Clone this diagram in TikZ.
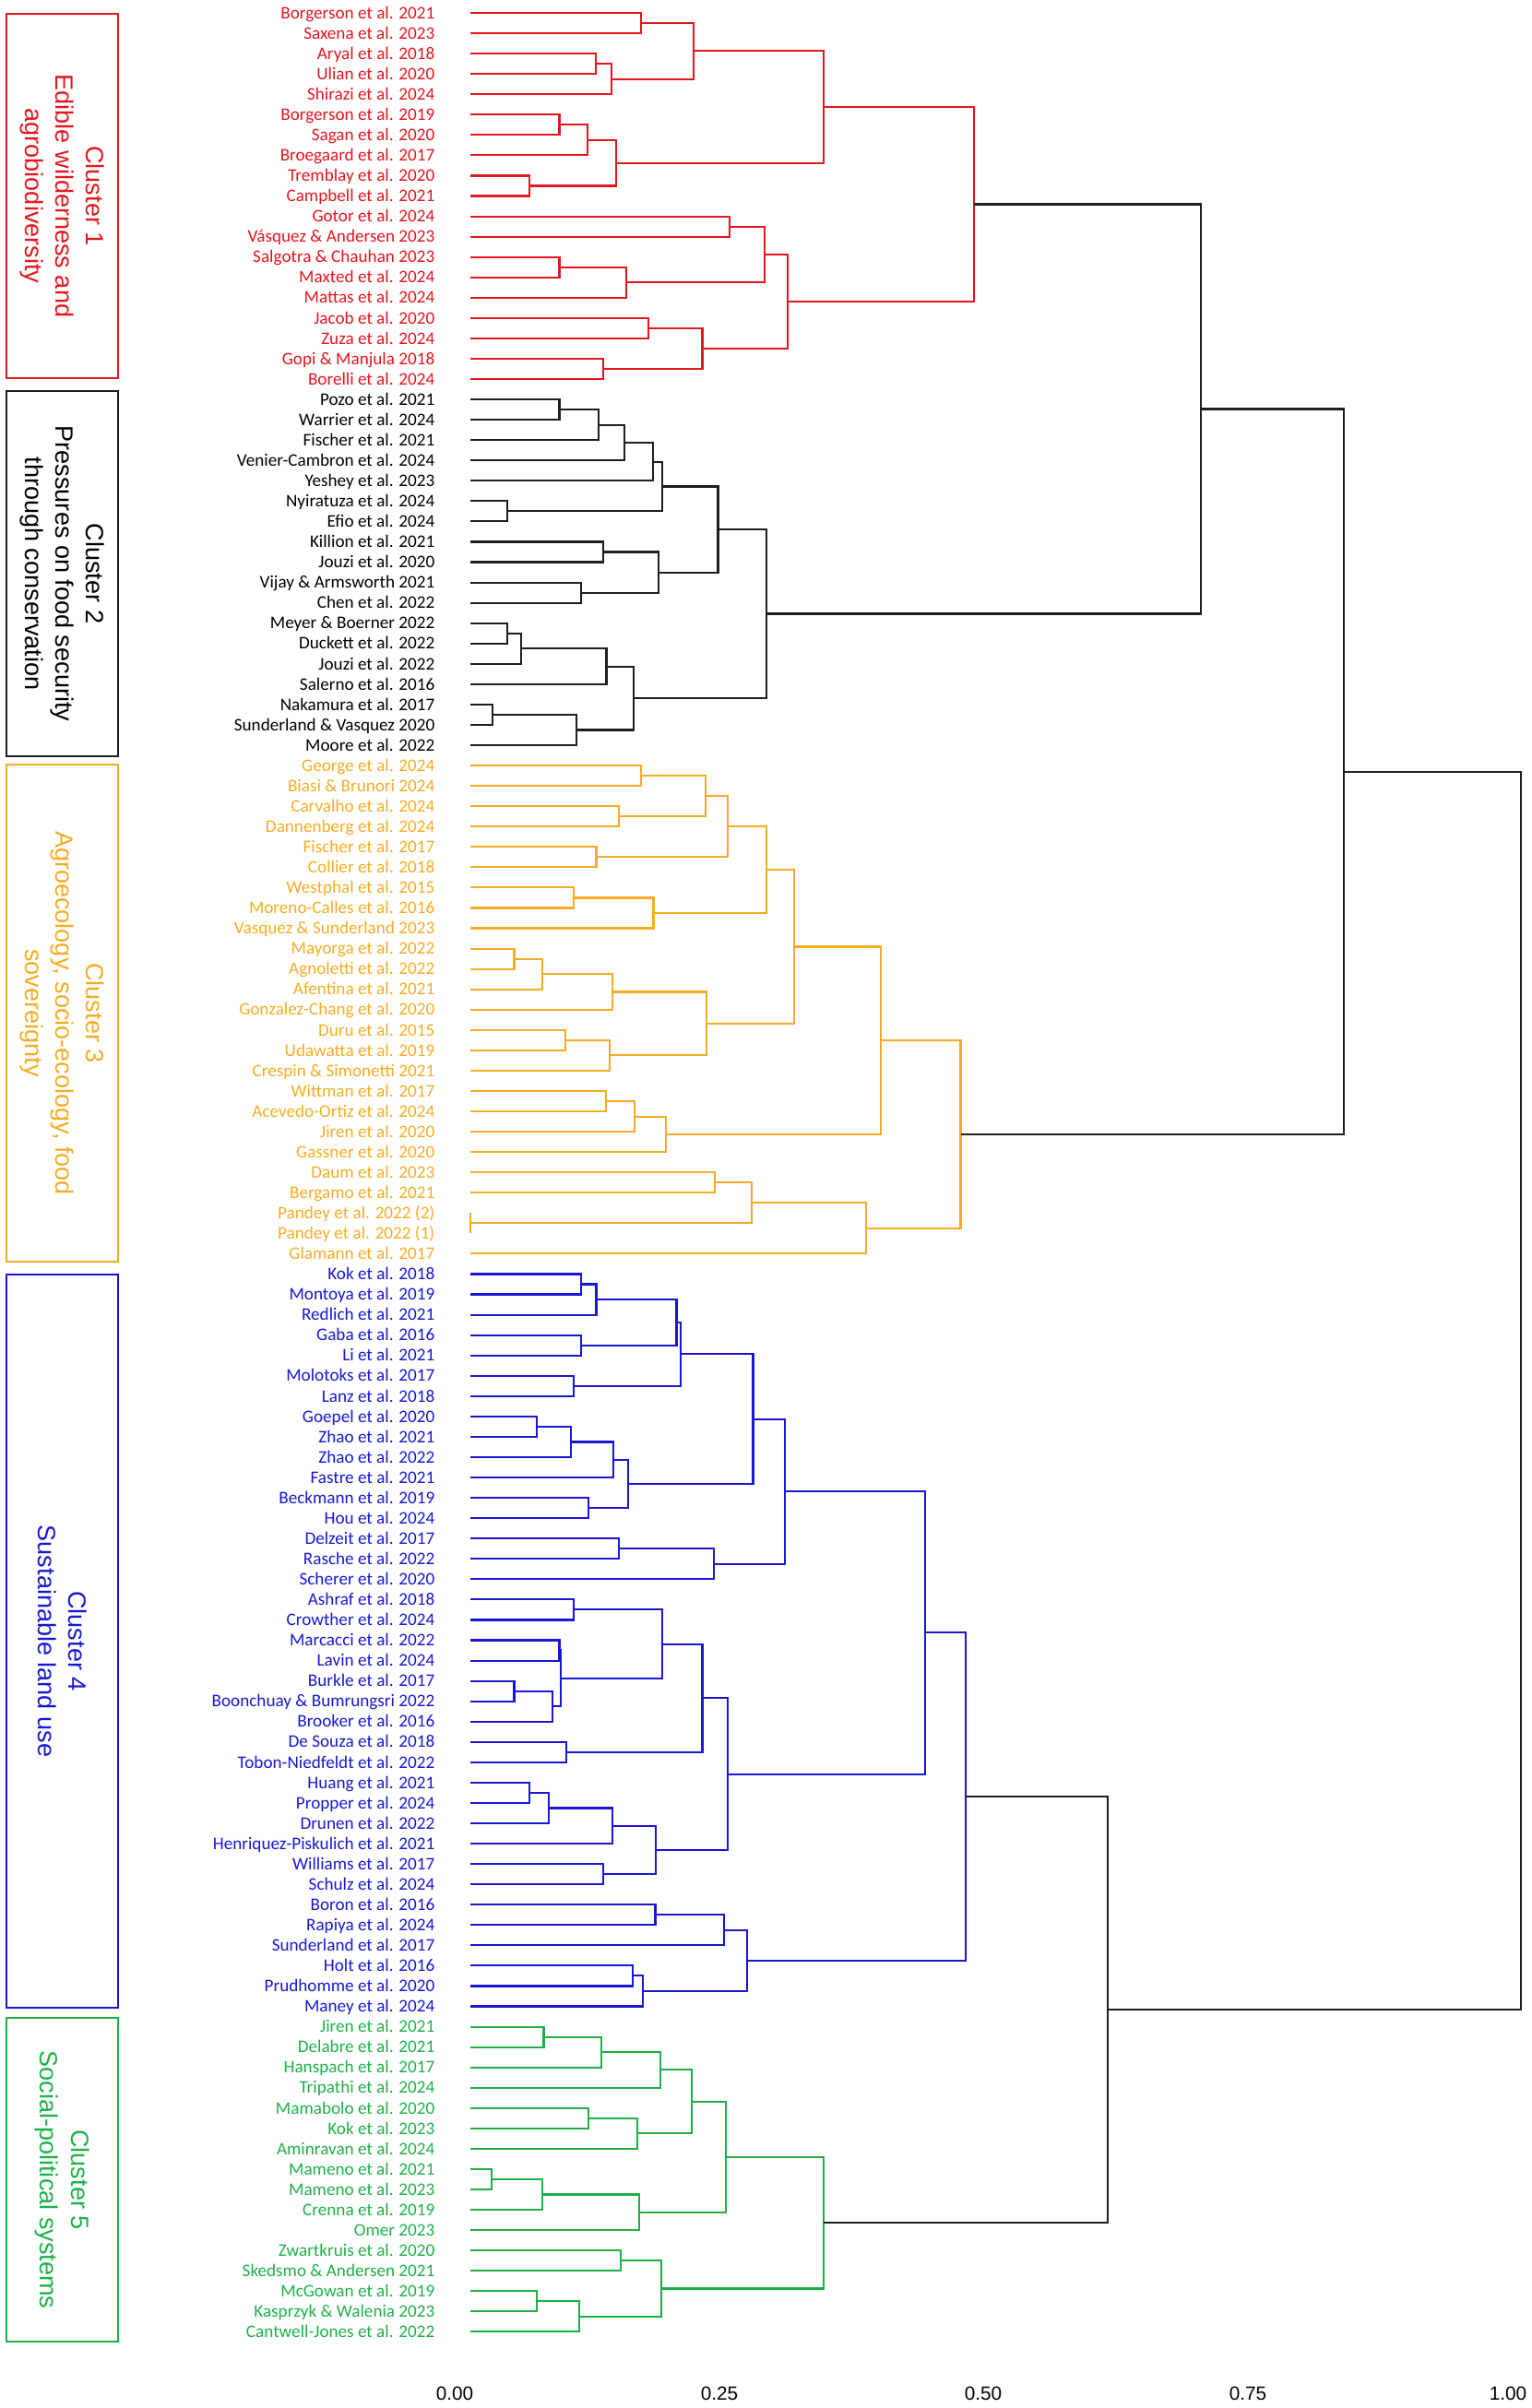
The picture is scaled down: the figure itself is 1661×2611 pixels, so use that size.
\documentclass[tikz,border=0pt]{standalone}
\usepackage{fontspec}
\setmainfont{Liberation Sans}
\newfontfamily\leaffont{Carlito}
\usepackage{tikz}
\usetikzlibrary{calc}
\definecolor{clred}{RGB}{228,22,30}
\definecolor{clgray}{RGB}{30,30,30}
\definecolor{clorange}{RGB}{245,172,36}
\definecolor{clblue}{RGB}{24,24,210}
\definecolor{clgreen}{RGB}{30,176,72}

% merge: [style]{name}{height x}{child a}{child b}, y = middle of the two children
\newcommand{\mrg}[5][]{%
  \edef\mrgx{#3}%
  \path let \p1=(#4), \p2=(#5) in ({\mrgx*0.01cm},{(\y1+\y2)/2}) coordinate (#2);
  \draw[link,#1] (#2) |- (#4) (#2) |- (#5);
}

\begin{document}
\begin{tikzpicture}[x=0.01cm, y=-0.01cm]
    \tikzstyle{link} = [line width=0.6pt]
    \tikzstyle{leaf} = [anchor=base east, inner sep=0pt, font=\leaffont\fontsize{5.45}{6.5}\selectfont]
    \tikzstyle{clbox} = [draw, line width=0.7pt, rotate=-90, align=center, inner sep=0pt, minimum height=1.21cm, font=\fontsize{7.7}{9.4}\selectfont]
    \tikzstyle{tick} = [font=\fontsize{5.9}{7}\selectfont]

    \useasboundingbox (0,0) rectangle (1661,2611);

    % Cluster boxes
    \node[clbox, draw=clred, text=clred, minimum width=3.95cm] (box1) at (67.5,212.5) {Cluster 1\\Edible wilderness and\\agrobiodiversity};
    \node[clbox, draw=clgray, text=black, minimum width=3.96cm] (box2) at (67.5,622) {Cluster 2\\Pressures on food security\\through conservation};
    \node[clbox, draw=clorange, text=clorange, minimum width=5.39cm] (box3) at (67.5,1098.5) {Cluster 3\\Agroecology, socio-ecology, food\\sovereignty};
    \node[clbox, draw=clblue, text=clblue, minimum width=7.95cm] (box4) at (67.5,1779.5) {Cluster 4\\Sustainable land use};
    \node[clbox, draw=clgreen, text=clgreen, minimum width=3.51cm] (box5) at (67.5,2363.5) {Cluster 5\\Social-political systems};

    % Leaves
    \foreach \lbl [count=\i from 0] in {Borgerson et al. 2021, Saxena et al. 2023, Aryal et al. 2018, Ulian et al. 2020, Shirazi et al. 2024, Borgerson et al. 2019, Sagan et al. 2020, Broegaard et al. 2017, Tremblay et al. 2020, Campbell et al. 2021, Gotor et al. 2024, Vásquez \& Andersen 2023, Salgotra \& Chauhan 2023, Maxted et al. 2024, Mattas et al. 2024, Jacob et al. 2020, Zuza et al. 2024, Gopi \& Manjula 2018, Borelli et al. 2024}{
        \node[leaf, text=clred] (t\i) at (472,{20.2+22.056*\i}) {\lbl};
        \coordinate (l\i) at (510,{14+22.056*\i});
    }
    \foreach \lbl [count=\i from 19] in {Pozo et al. 2021, Warrier et al. 2024, Fischer et al. 2021, Venier-Cambron et al. 2024, Yeshey et al. 2023, Nyiratuza et al. 2024, Efio et al. 2024, Killion et al. 2021, Jouzi et al. 2020, Vijay \& Armsworth 2021, Chen et al. 2022, Meyer \& Boerner 2022, Duckett et al. 2022, Jouzi et al. 2022, Salerno et al. 2016, Nakamura et al. 2017, Sunderland \& Vasquez 2020, Moore et al. 2022}{
        \node[leaf, text=black] (t\i) at (472,{20.2+22.056*\i}) {\lbl};
        \coordinate (l\i) at (510,{14+22.056*\i});
    }
    \foreach \lbl [count=\i from 37] in {George et al. 2024, Biasi \& Brunori 2024, Carvalho et al. 2024, Dannenberg et al. 2024, Fischer et al. 2017, Collier et al. 2018, Westphal et al. 2015, Moreno-Calles et al. 2016, Vasquez \& Sunderland 2023, Mayorga et al. 2022, Agnoletti et al. 2022, Afentina et al. 2021, Gonzalez-Chang et al. 2020, Duru et al. 2015, Udawatta et al. 2019, Crespin \& Simonetti 2021, Wittman et al. 2017, Acevedo-Ortiz et al. 2024, Jiren et al. 2020, Gassner et al. 2020, Daum et al. 2023, Bergamo et al. 2021, Pandey et al. 2022 (2), Pandey et al. 2022 (1), Glamann et al. 2017}{
        \node[leaf, text=clorange] (t\i) at (472,{20.2+22.056*\i}) {\lbl};
        \coordinate (l\i) at (510,{14+22.056*\i});
    }
    \foreach \lbl [count=\i from 62] in {Kok et al. 2018, Montoya et al. 2019, Redlich et al. 2021, Gaba et al. 2016, Li et al. 2021, Molotoks et al. 2017, Lanz et al. 2018, Goepel et al. 2020, Zhao et al. 2021, Zhao et al. 2022, Fastre et al. 2021, Beckmann et al. 2019, Hou et al. 2024, Delzeit et al. 2017, Rasche et al. 2022, Scherer et al. 2020, Ashraf et al. 2018, Crowther et al. 2024, Marcacci et al. 2022, Lavin et al. 2024, Burkle et al. 2017, Boonchuay \& Bumrungsri 2022, Brooker et al. 2016, De Souza et al. 2018, Tobon-Niedfeldt et al. 2022, Huang et al. 2021, Propper et al. 2024, Drunen et al. 2022, Henriquez-Piskulich et al. 2021, Williams et al. 2017, Schulz et al. 2024, Boron et al. 2016, Rapiya et al. 2024, Sunderland et al. 2017, Holt et al. 2016, Prudhomme et al. 2020, Maney et al. 2024}{
        \node[leaf, text=clblue] (t\i) at (472,{20.2+22.056*\i}) {\lbl};
        \coordinate (l\i) at (510,{14+22.056*\i});
    }
    \foreach \lbl [count=\i from 99] in {Jiren et al. 2021, Delabre et al. 2021, Hanspach et al. 2017, Tripathi et al. 2024, Mamabolo et al. 2020, Kok et al. 2023, Aminravan et al. 2024, Mameno et al. 2021, Mameno et al. 2023, Crenna et al. 2019, Omer 2023, Zwartkruis et al. 2020, Skedsmo \& Andersen 2021, McGowan et al. 2019, Kasprzyk \& Walenia 2023, Cantwell-Jones et al. 2022}{
        \node[leaf, text=clgreen] (t\i) at (472,{20.2+22.056*\i}) {\lbl};
        \coordinate (l\i) at (510,{14+22.056*\i});
    }

    % Cluster 1
    \foreach \m/\hx/\ca/\cb in {a1/694.7/l0/l1, a2/646/l2/l3, a3/662.7/a2/l4, a4/752.4/a1/a3, a5/606.5/l5/l6, a6/637.4/a5/l7, a7/573.7/l8/l9, a8/667.8/a6/a7, a9/893.2/a4/a8, a10/791.2/l10/l11, a11/606.5/l12/l13, a12/678.9/a11/l14, a13/829.1/a10/a12, a14/702.6/l15/l16, a15/654/l17/l18, a16/761.5/a14/a15, a17/853.7/a13/a16, a18/1056.1/a9/a17}
        {\mrg[clred]{\m}{\hx}{\ca}{\cb}}
    % Cluster 2
    \foreach \m/\hx/\ca/\cb in {b1/606.5/l19/l20, b2/648.8/b1/l21, b3/677.3/b2/l22, b4/707.8/b3/l23, b5/550.4/l24/l25, b6/718.4/b4/b5, b7/654.4/l26/l27, b8/630.3/l28/l29, b9/714/b7/b8, b10/778.5/b6/b9, b11/550.4/l30/l31, b12/565.4/b11/l32, b13/657.5/b12/l33, b14/533.8/l34/l35, b15/624.7/b14/l36, b16/686.8/b13/b15, b17/831.1/b10/b16}
        {\mrg[clgray]{\m}{\hx}{\ca}{\cb}}
    % Cluster 3
    \foreach \m/\hx/\ca/\cb in {c1/694.7/l37/l38, c2/670.6/l39/l40, c3/764.7/c1/c2, c4/646.5/l41/l42, c5/789.2/c3/c4, c6/622/l43/l44, c7/708.5/c6/l45, c8/831.1/c5/c7, c9/557.5/l46/l47, c10/587.6/c9/l48, c11/664.3/c10/l49, c12/613.3/l50/l51, c13/661.1/c12/l52, c14/766.3/c11/c13, c15/860.8/c8/c14, c16/657.1/l53/l54, c17/688/c16/l55, c18/722.4/c17/l56, c19/955.3/c15/c18, c20/774.6/l57/l58, c21/510/l59/l60, c22/814.9/c20/c21, c23/938.7/c22/l61, c24/1041.5/c19/c23}
        {\mrg[clorange]{\m}{\hx}{\ca}{\cb}}
    % Cluster 4
    \foreach \m/\hx/\ca/\cb in {d1/629.9/l62/l63, d2/646.5/d1/l64, d3/629.9/l65/l66, d4/733.5/d2/d3, d5/622/l67/l68, d6/737.8/d4/d5, d7/582/l69/l70, d8/619.2/d7/l71, d9/665/d8/l72, d10/638.2/l73/l74, d11/680.9/d9/d10, d12/816.5/d6/d11, d13/670.6/l75/l76, d14/773.8/d13/l77, d15/850.9/d12/d14, d16/622/l78/l79, d17/606.5/l80/l81, d18/557.5/l82/l83, d19/598.6/d18/l84, d20/608.1/d17/d19, d21/717.6/d16/d20, d22/613.6/l85/l86, d23/761.5/d21/d22, d24/573.7/l87/l88, d25/594.7/d24/l89, d26/664.3/d25/l90, d27/654.4/l91/l92, d28/711.3/d26/d27, d29/788.8/d23/d28, d30/1003.1/d15/d29, d31/710.5/l93/l94, d32/784.9/d31/l95, d33/686.4/l96/l97, d34/697.1/d33/l98, d35/810.2/d32/d34, d36/1046.6/d30/d35}
        {\mrg[clblue]{\m}{\hx}{\ca}{\cb}}
    % Cluster 5
    \foreach \m/\hx/\ca/\cb in {e1/589.5/l99/l100, e2/652/e1/l101, e3/716.1/e2/l102, e4/638.2/l103/l104, e5/690.8/e4/l105, e6/749.7/e3/e5, e7/533/l106/l107, e8/587.6/e7/l108, e9/692.7/e8/l109, e10/787.2/e6/e9, e11/672.6/l110/l111, e12/582/l112/l113, e13/627.9/e12/l114, e14/717.2/e11/e13, e15/893.2/e10/e14}
        {\mrg[clgreen]{\m}{\hx}{\ca}{\cb}}
    % Joining the clusters
    \foreach \m/\hx/\ca/\cb in {r1/1302/a18/b17, r2/1457.4/r1/c24, r3/1201/d36/e15, r4/1649/r2/r3}
        {\mrg[clgray]{\m}{\hx}{\ca}{\cb}}

    % Axis
    \foreach \v/\px [count=\k] in {0.00/493, 0.25/780, 0.50/1066, 0.75/1353, 1.00/1635}
        \node[tick] (ax\k) at (\px,2595.5) {\v};
\end{tikzpicture}
\end{document}
